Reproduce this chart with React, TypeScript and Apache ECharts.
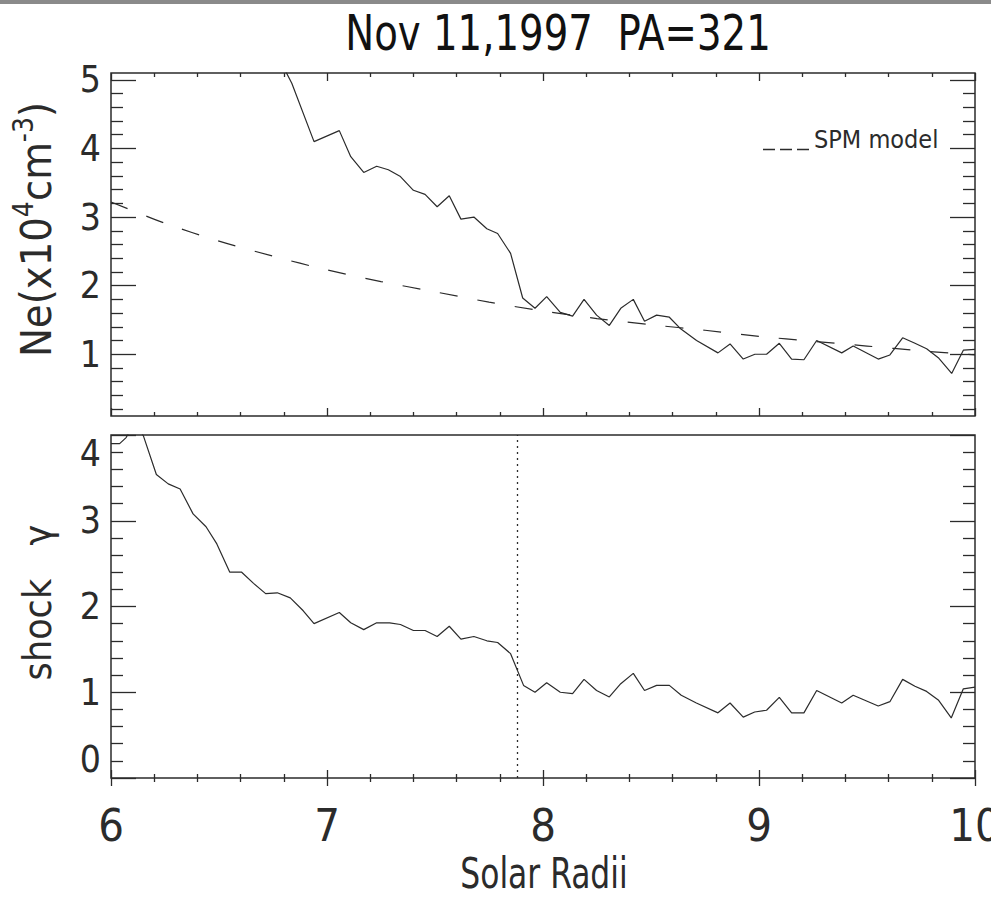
import { useEffect, useRef } from "react";
import * as echarts from "echarts";

const FONT = "'Liberation Sans Narrow', 'DejaVu Sans Condensed', 'Liberation Sans', sans-serif";
const INK = "#2b2b2b";

const titleText = "Nov 11,1997  PA=321";
const xAxisTitle = "Solar Radii";
const gammaAxisTitle = "shock   γ";
const modelName = "SPM model";

const radiusRange = [6, 10];
const neRange = [0.1, 5.1];
const gammaRange = [0, 4];
const neTickValues = [1, 2, 3, 4, 5];
const neMinorTickValues = [
  0.2, 0.4, 0.6, 0.8, 1.2, 1.4, 1.6, 1.8, 2.2, 2.4, 2.6, 2.8, 3.2, 3.4, 3.6, 3.8,
  4.2, 4.4, 4.6, 4.8,
];

// Electron density (x10^4 cm^-3) along the position angle
const neRadius = [
  6.78, 6.837, 6.94, 7.057, 7.11, 7.17, 7.23, 7.284, 7.34, 7.4, 7.454, 7.51, 7.566,
  7.62, 7.68, 7.74, 7.79, 7.85, 7.906, 7.963, 8.017, 8.08, 8.137, 8.19, 8.248, 8.307,
  8.36, 8.418, 8.47, 8.526, 8.585, 8.634, 8.711, 8.81, 8.866, 8.927, 8.981, 9.035,
  9.094, 9.151, 9.208, 9.267, 9.383, 9.436, 9.552, 9.606, 9.665, 9.722, 9.776, 9.83,
  9.892, 9.946, 10.0,
];
const neDensity = [
  5.3, 4.95, 4.1, 4.26, 3.88, 3.65, 3.74, 3.69, 3.59, 3.39, 3.33, 3.15, 3.31,
  2.97, 3.0, 2.83, 2.76, 2.47, 1.82, 1.67, 1.84, 1.61, 1.555, 1.8, 1.57, 1.42,
  1.67, 1.8, 1.48, 1.57, 1.54, 1.38, 1.2, 1.02, 1.15, 0.93, 1.0, 1.0,
  1.16, 0.93, 0.92, 1.2, 1.02, 1.12, 0.93, 0.99, 1.24, 1.16, 1.08, 0.95,
  0.72, 1.06, 1.07,
];

// SPM background density model
const modelRadius = [
  6.0, 6.25, 6.5, 6.75, 7.0, 7.25, 7.5, 7.75, 8.0, 8.25, 8.5, 8.75, 9.0, 9.25, 9.5,
  9.75, 10.0,
];
const modelDensity = [
  3.22, 2.91, 2.65, 2.43, 2.23, 2.06, 1.91, 1.76, 1.63, 1.52, 1.43, 1.35, 1.26, 1.19,
  1.12, 1.05, 0.99,
];

// Shock compression ratio
const gammaRadius = [
  6.0, 6.04, 6.07, 6.11, 6.15, 6.21, 6.265, 6.32, 6.38, 6.44, 6.49, 6.55, 6.605,
  6.66, 6.716, 6.77, 6.83, 6.89, 6.94, 7.057, 7.11, 7.17, 7.23, 7.29, 7.34, 7.4,
  7.454, 7.51, 7.566, 7.62, 7.68, 7.74, 7.79, 7.85, 7.91, 7.963, 8.017, 8.08, 8.137,
  8.19, 8.248, 8.307, 8.36, 8.418, 8.47, 8.526, 8.585, 8.64, 8.71, 8.81, 8.866,
  8.927, 8.98, 9.035, 9.094, 9.151, 9.208, 9.267, 9.383, 9.436, 9.552, 9.606, 9.665,
  9.722, 9.776, 9.83, 9.89, 9.946, 10.0,
];
const gammaValues = [
  3.9, 3.9, 3.97, 4.15, 3.99, 3.54, 3.43, 3.37, 3.08, 2.93, 2.73, 2.4, 2.4,
  2.27, 2.15, 2.16, 2.1, 1.95, 1.8, 1.93, 1.81, 1.73, 1.81, 1.81, 1.79, 1.72,
  1.72, 1.65, 1.77, 1.62, 1.65, 1.6, 1.58, 1.45, 1.08, 1.0, 1.11, 1.0, 0.985,
  1.15, 1.02, 0.945, 1.1, 1.22, 1.02, 1.08, 1.08, 0.965, 0.875, 0.76, 0.875,
  0.71, 0.77, 0.79, 0.94, 0.76, 0.76, 1.02, 0.875, 0.965, 0.84, 0.89, 1.15,
  1.07, 1.01, 0.91, 0.7, 1.04, 1.06,
];

const shockFrontRadius = 7.885;

const zip = (xs: number[], ys: number[]) => xs.map((x, i) => [x, ys[i]]);

const tickLine = { color: INK, width: 1.3 };

function radiusAxis(gridIndex: number, position: string, withLabels: boolean) {
  return {
    type: "value",
    gridIndex,
    position,
    min: radiusRange[0],
    max: radiusRange[1],
    interval: 1,
    axisLine: { show: false },
    splitLine: { show: false },
    axisTick: { show: true, inside: true, length: 8, lineStyle: tickLine },
    minorTick: { show: true, splitNumber: 5, length: 4, lineStyle: tickLine },
    minorSplitLine: { show: false },
    axisLabel: withLabels
      ? { show: true, fontFamily: FONT, fontSize: 45, color: INK, margin: 25 }
      : { show: false },
  };
}

function neAxis(position: string, values: number[], len: number, withLabels: boolean) {
  return {
    type: "value",
    gridIndex: 0,
    position,
    min: neRange[0],
    max: neRange[1],
    axisLine: { show: false },
    splitLine: { show: false },
    axisTick: { show: true, inside: true, length: len, customValues: values, lineStyle: tickLine },
    axisLabel: withLabels
      ? { show: true, customValues: values, fontFamily: FONT, fontSize: 37, color: INK, margin: 10 }
      : { show: false },
  };
}

function gammaAxis(position: string, withLabels: boolean) {
  return {
    type: "value",
    gridIndex: 1,
    position,
    min: gammaRange[0],
    max: gammaRange[1],
    interval: 1,
    axisLine: { show: false },
    splitLine: { show: false },
    axisTick: { show: true, inside: true, length: 25, lineStyle: tickLine },
    minorTick: { show: true, splitNumber: 5, length: 12, lineStyle: tickLine },
    minorSplitLine: { show: false },
    axisLabel: withLabels
      ? {
          show: true,
          fontFamily: FONT,
          fontSize: 37,
          color: INK,
          margin: 10,
          verticalAlignMinLabel: "bottom",
          verticalAlignMaxLabel: "top",
        }
      : { show: false },
  };
}

export default function App() {
  const ref = useRef<HTMLDivElement>(null);

  useEffect(() => {
    if (!ref.current) return;
    const chart = echarts.init(ref.current, undefined, { renderer: "svg" });

    const neAxisLeft: any = neAxis("left", neTickValues, 25, true);
    neAxisLeft.name = "{t|Ne(x10}{s|4}{t|cm}{s|-3}{t|)}";
    neAxisLeft.nameLocation = "middle";
    neAxisLeft.nameRotate = 90;
    neAxisLeft.nameGap = 54;
    neAxisLeft.nameTextStyle = {
      fontFamily: FONT,
      color: INK,
      padding: [0, 0, 0, 30],
      rich: {
        t: { fontFamily: FONT, fontSize: 43, color: INK, lineHeight: 48, verticalAlign: "bottom" },
        s: { fontFamily: FONT, fontSize: 28, color: INK, lineHeight: 48, verticalAlign: "top" },
      },
    };

    const gammaAxisLeft: any = gammaAxis("left", true);
    gammaAxisLeft.name = gammaAxisTitle;
    gammaAxisLeft.nameLocation = "middle";
    gammaAxisLeft.nameRotate = 90;
    gammaAxisLeft.nameGap = 54;
    gammaAxisLeft.nameTextStyle = {
      fontFamily: FONT,
      fontSize: 39,
      color: INK,
      padding: [0, 0, 0, 8],
    };

    const gridBase = {
      left: 111,
      width: 864,
      height: 343,
      show: true,
      borderColor: INK,
      borderWidth: 1.5,
      backgroundColor: "transparent",
      containLabel: false,
      outerBoundsMode: "none",
    };

    chart.setOption({
      animation: false,
      backgroundColor: "#ffffff",
      legend: {
        data: [
          {
            name: modelName,
            icon: "path://M0 20H12V21.6H0Z M17 20H29V21.6H17Z M34 20H46V21.6H34Z M0 0H0.01V0.01H0Z",
          },
        ],
        left: 758,
        top: 122,
        itemWidth: 46,
        itemHeight: 22,
        selectedMode: false,
        textStyle: { fontFamily: FONT, fontSize: 25, color: INK },
      },
      graphic: [
        {
          type: "rect",
          left: 0,
          top: 0,
          shape: { width: 991, height: 4 },
          style: { fill: "#8a8a8a" },
          silent: true,
        },
        {
          type: "text",
          x: 558,
          y: 33,
          scaleX: 0.86,
          silent: true,
          style: {
            text: titleText,
            fontFamily: FONT,
            fontSize: 50,
            fill: "#111",
            align: "center",
            verticalAlign: "middle",
          },
        },
        {
          type: "text",
          x: 544,
          y: 873,
          scaleX: 0.83,
          silent: true,
          style: {
            text: xAxisTitle,
            fontFamily: FONT,
            fontSize: 42,
            fill: INK,
            align: "center",
            verticalAlign: "middle",
          },
        },
      ],
      grid: [
        { ...gridBase, top: 73 },
        { ...gridBase, top: 435 },
      ],
      xAxis: [
        radiusAxis(0, "bottom", false),
        radiusAxis(0, "top", false),
        radiusAxis(1, "bottom", true),
        radiusAxis(1, "top", false),
      ],
      yAxis: [
        neAxisLeft,
        neAxis("left", neMinorTickValues, 12, false),
        neAxis("right", neTickValues, 25, false),
        neAxis("right", neMinorTickValues, 12, false),
        gammaAxisLeft,
        gammaAxis("right", false),
      ],
      series: [
        {
          name: "Ne",
          type: "line",
          xAxisIndex: 0,
          yAxisIndex: 0,
          data: zip(neRadius, neDensity),
          symbol: "none",
          clip: true,
          lineStyle: { color: INK, width: 1.2 },
        },
        {
          name: modelName,
          type: "line",
          xAxisIndex: 0,
          yAxisIndex: 0,
          data: zip(modelRadius, modelDensity),
          symbol: "none",
          smooth: 0.3,
          clip: true,
          itemStyle: { color: INK },
          lineStyle: { color: INK, width: 1.2, type: [18, 20] },
        },
        {
          name: "gamma",
          type: "line",
          xAxisIndex: 2,
          yAxisIndex: 4,
          data: zip(gammaRadius, gammaValues),
          symbol: "none",
          clip: true,
          lineStyle: { color: INK, width: 1.2 },
          markLine: {
            silent: true,
            symbol: "none",
            label: { show: false },
            lineStyle: { color: INK, width: 1.3, type: [2, 4] },
            data: [{ xAxis: shockFrontRadius }],
          },
        },
      ],
    });

    return () => chart.dispose();
  }, []);

  return (
    <div
      ref={ref}
      style={{ position: "fixed", left: 0, top: 0, width: 991, height: 897, background: "#fff" }}
    />
  );
}
